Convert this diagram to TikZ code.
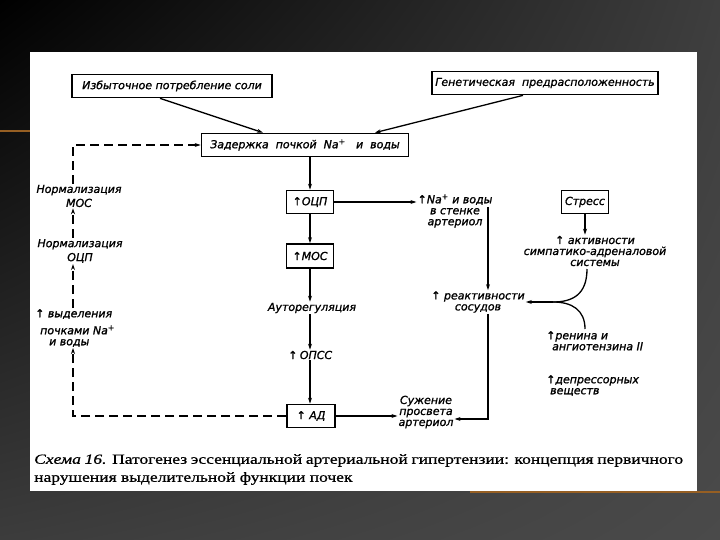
\documentclass[tikz,border=0pt]{standalone}
\usepackage{fontspec}
\setmainfont{Liberation Serif}
\newfontfamily\dfont[FakeBold=1.2]{DejaVu Sans}
\newfontfamily\capfont[FakeStretch=1.25,FakeBold=0.8]{Liberation Serif}
\usetikzlibrary{arrows.meta,shadings}
\definecolor{bgTR}{RGB}{62,62,62}
\definecolor{bgBL}{RGB}{60,60,60}
\definecolor{bgBR}{RGB}{74,74,74}
\definecolor{deco}{RGB}{150,95,35}
\tikzset{
  lbl/.style={font=\dfont\itshape\fontsize{11}{11}\selectfont, align=center, inner sep=1pt},
  boxn/.style={lbl, draw, line width=1.7pt, minimum height=23pt, inner sep=2pt},
  arr/.style={line width=1.3pt, -{Stealth[length=6pt,width=4pt]}},
  plain/.style={line width=1.3pt},
  darr/.style={arr, dash pattern=on 9pt off 5pt},
}
\begin{document}
\begin{tikzpicture}[x=1pt,y=-1pt]
\useasboundingbox (0,0) rectangle (720,540);
\shade[upper left=black, upper right=bgTR, lower left=bgBL, lower right=bgBR] (0,0) rectangle (720,540);
\draw[deco, line width=2pt] (0,131) -- (30,131);
\draw[deco, line width=2pt] (470,491.5) -- (720,491.5);
\fill[white] (30,52) rectangle (697,491);

% boxes
\node[boxn, minimum width=200pt] (izb) at (172,86) {Избыточное потребление соли};
\node[boxn, minimum width=226pt] (gen) at (545,83) {Генетическая\ \ предрасположенность};
\node[boxn, minimum width=207pt] (zad) at (305,145) {Задержка\ \ почкой\ \ Na\textsuperscript{+}\ \ \ и\ \ воды};
\node[boxn, minimum width=47pt] (ocp) at (310,202) {↑ОЦП};
\node[boxn, minimum width=47pt, minimum height=24pt] (mos) at (310,256) {↑МОС};
\node[lbl] (auto) at (312,308) {Ауторегуляция};
\node[lbl, label={[lbl]left:↑}] (opss) at (316,355) {ОПСС};
\node[boxn, minimum width=48pt] (ad) at (311,416) {↑ АД};
\node[lbl] (suz) at (426,412) {Сужение\\просвета\\артериол};
\node[lbl] (nast) at (455,211) {↑Na\textsuperscript{+} и воды\\в стенке\\артериол};
\node[lbl] (reakt) at (478,302) {↑ реактивности\\сосудов};
\node[boxn, minimum width=47pt] (stress) at (585,202) {Стресс};
\node[lbl] (akt) at (595,251) {↑ активности\\симпатико-адреналовой\\системы};
\node[lbl, align=left, anchor=north west] (ren) at (545,330) {↑ренина и\\\hspace{6pt}ангиотензина II};
\node[lbl, align=left, anchor=north west] (depr) at (545,374) {↑депрессорных\\\hspace{4pt}веществ};

% left column
\node[lbl] (n1) at (79,196) {Нормализация\\[3pt]МОС};
\node[lbl] (n2) at (80,251) {Нормализация\\[3pt]ОЦП};
\node[lbl, align=left, anchor=west] (vyd) at (34,328) {↑ выделения\\[6pt]\hspace{5pt}почками Na\textsuperscript{+}\\\hspace{14pt}и воды};

% caption
\node[anchor=north west, inner sep=0pt, align=left, font=\capfont\fontsize{14}{18}\selectfont] (cap) at (34,454)
  {\makebox[649pt][s]{\textit{Схема 16.} Патогенез эссенциальной артериальной гипертензии: концепция первичного}\\нарушения выделительной функции почек};

% coordinates
\coordinate (bl) at (73,416);
\coordinate (tl) at (73,145);
\coordinate (nv) at (488,207);
\coordinate (rc) at (488,419);
\coordinate (j) at (553,302);
\coordinate (ak) at (587,269);
\coordinate (rn) at (585,329);

% top arrows
\draw[arr] ([xshift=-12pt]izb.south) -- ([xshift=-42pt]zad.north);
\draw[arr] ([xshift=-22pt]gen.south) -- ([xshift=70pt]zad.north);

% central chain
\draw[arr] (zad.south -| ocp.north) -- (ocp.north);
\draw[arr] (ocp.south) -- (mos.north);
\draw[arr] (mos.south) -- (mos.south |- auto.north);
\draw[arr] (auto.south -| mos.south) -- (opss.north -| mos.south);
\draw[arr] (opss.south -| mos.south) -- (ad.north -| mos.south);
\draw[arr] (ad.east) -- (ad.east -| suz.west);

% right branch
\draw[arr] (ocp.east) -- (ocp.east -| nast.west);
\draw[arr] (nv) -- (nv |- reakt.north);
\draw[arr] (reakt.south -| rc) -- (rc) -- (rc -| suz.east);
\draw[arr] (stress.south) -- (stress.south |- akt.north);
\draw[plain] (ak) .. controls (587,295) and (572,302) .. (j);
\draw[plain] (rn) .. controls (585,310) and (572,302) .. (j);
\draw[arr] (j) -- (j -| reakt.east);

% dashed feedback
\draw[darr] (ad.west) -- (bl) -- (vyd.south -| bl);
\draw[darr] (vyd.north -| bl) -- (n2.south -| bl);
\draw[darr] (n2.north -| bl) -- (n1.south -| bl);
\draw[darr] (n1.north -| bl) -- (tl) -- (zad.west);
\end{tikzpicture}
\end{document}
